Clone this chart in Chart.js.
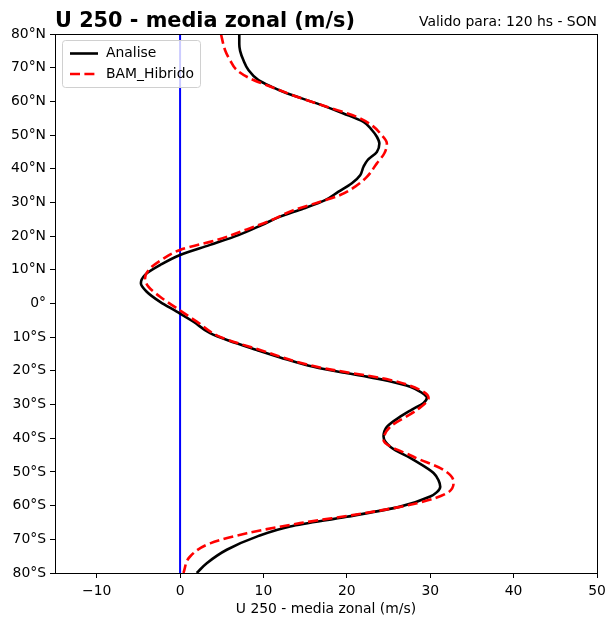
<!DOCTYPE html>
<html>
<head>
<meta charset="utf-8">
<script src="https://cdn.jsdelivr.net/npm/chart.js@4/dist/chart.umd.min.js"></script>
<style>
  body { margin: 0; background: #fff; }
  #wrap { width: 616px; height: 626px; }
</style>
</head>
<body>
<div id="wrap"><canvas id="chart" width="616" height="626"></canvas></div>
<script>
// latitudes (deg, + = N) and zonal wind (m/s)
const analiseLat = [80, 77, 75, 72.2, 69.3, 66.3, 64.3, 62.4, 59.4, 56.4, 53.9, 51.5, 49.5, 47.5, 45, 42.6, 40.6, 38.1, 35.7, 33.2, 30.7, 28.2, 25.8, 23.3, 20.3, 17.4, 14.4, 11.4, 8.5, 6, 3.5, 0.5, -2.4, -5.4, -8.8, -11, -13.8, -16, -18.8, -20.5, -21.7, -23, -24.7, -26.5, -28, -29.5, -31.5, -33.6, -36.6, -39.5, -42.5, -46.4, -50.3, -52.5, -54.4, -56, -57.3, -60.3, -63.3, -66.2, -69.2, -73.1, -77.1, -80];
const analiseU   = [7.1, 7.1, 7.2, 7.6, 8.2, 9.4, 11.0, 12.8, 16.4, 19.6, 22.0, 23.0, 23.6, 23.9, 23.6, 22.5, 22.0, 21.6, 20.6, 19.0, 17.4, 14.8, 12.0, 9.8, 7.0, 3.6, 0, -2.4, -4.2, -4.7, -4.0, -2.4, -0.4, 1.6, 3.6, 5.8, 9.2, 12.0, 16.0, 19.5, 22.4, 25.0, 27.6, 29.0, 29.6, 29.2, 27.8, 26.4, 24.8, 24.4, 25.2, 28.0, 30.4, 31.0, 31.2, 30.8, 30.0, 26.4, 20.0, 13.2, 9.2, 5.6, 3.2, 2.0];

const bamLat = [80, 75.2, 72.2, 69.3, 66.8, 64.8, 61.4, 58.4, 55.4, 52.5, 50.5, 47.5, 44.6, 41.6, 37.6, 34.7, 32.2, 30.2, 27.7, 24.8, 21.8, 19, 15.9, 13, 10.4, 7.5, 5, 2, -1.4, -5.4, -9.9, -13.8, -18.8, -22.7, -25.7, -28, -31.6, -36.6, -40.5, -45.5, -49.4, -52.9, -56.3, -59.3, -62.3, -65.2, -68.2, -71.2, -75.1, -80];
const bamU   = [4.9, 5.4, 6.0, 6.8, 8.4, 10.4, 14.0, 17.6, 21.2, 23.2, 24.0, 24.8, 24.5, 23.6, 22.4, 21.0, 19.2, 16.8, 13.6, 11.0, 7.8, 4.6, 0, -2.2, -3.6, -4.2, -3.8, -2.4, -0.4, 2.0, 4.8, 9.6, 16.4, 25.2, 28.8, 29.8, 28.4, 25.2, 24.4, 28.0, 31.6, 32.8, 32.0, 28.4, 22.0, 14.4, 8.0, 3.6, 1.2, 0.4];

const xTicks = [-10, 0, 10, 20, 30, 40, 50];
const yTicks = [-80, -70, -60, -50, -40, -30, -20, -10, 0, 10, 20, 30, 40, 50, 60, 70, 80];

const FONT = "'DejaVu Sans', sans-serif";
const DASH = [10, 4.4];

function toPoints(lat, u) {
  return lat.map((y, i) => ({ x: u[i], y: y }));
}

function latLabel(v) {
  if (v > 0) return v + '°N';
  if (v < 0) return (-v) + '°S';
  return '0°';
}

// frame, title and legend drawn on the canvas
const decor = {
  id: 'decor',
  afterDraw(chart) {
    const ctx = chart.ctx;
    const a = chart.chartArea;
    ctx.save();
    ctx.strokeStyle = '#000';
    ctx.lineWidth = 1;
    ctx.strokeRect(a.left + 0.5, a.top + 0.5, a.right - a.left, a.bottom - a.top);

    ctx.fillStyle = '#000';
    ctx.textBaseline = 'alphabetic';
    ctx.font = 'bold 20.8px ' + FONT;
    ctx.textAlign = 'left';
    ctx.fillText('U 250 - media zonal (m/s)', a.left, 27);
    ctx.font = '13.9px ' + FONT;
    ctx.textAlign = 'right';
    ctx.fillText('Valido para: 120 hs - SON', a.right, 26);

    // legend box
    const bx = a.left + 7, by = a.top + 6, bw = 138, bh = 47;
    ctx.fillStyle = 'rgba(255,255,255,0.8)';
    ctx.strokeStyle = '#d0d0d0';
    ctx.lineWidth = 1;
    ctx.beginPath();
    ctx.roundRect(bx + 0.5, by + 0.5, bw, bh, 3);
    ctx.fill();
    ctx.stroke();

    ctx.lineWidth = 2.6;
    ctx.strokeStyle = '#000';
    ctx.beginPath();
    ctx.moveTo(bx + 8, by + 13.5);
    ctx.lineTo(bx + 36, by + 13.5);
    ctx.stroke();
    ctx.strokeStyle = 'red';
    ctx.setLineDash(DASH);
    ctx.beginPath();
    ctx.moveTo(bx + 8, by + 34);
    ctx.lineTo(bx + 36, by + 34);
    ctx.stroke();
    ctx.setLineDash([]);

    ctx.fillStyle = '#000';
    ctx.textAlign = 'left';
    ctx.textBaseline = 'middle';
    ctx.font = '13.9px ' + FONT;
    ctx.fillText('Analise', bx + 44, by + 13.5);
    ctx.fillText('BAM_Hibrido', bx + 44, by + 34);
    ctx.restore();
  }
};

new Chart(document.getElementById('chart'), {
  type: 'scatter',
  data: {
    datasets: [
      {
        label: 'BAM_Hibrido',
        data: toPoints(bamLat, bamU),
        showLine: true,
        borderColor: 'red',
        borderWidth: 2.6,
        borderDash: DASH,
        pointRadius: 0,
        cubicInterpolationMode: 'monotone'
      },
      {
        label: 'Analise',
        data: toPoints(analiseLat, analiseU),
        showLine: true,
        borderColor: '#000',
        borderWidth: 2.6,
        pointRadius: 0,
        cubicInterpolationMode: 'monotone'
      },
      {
        label: 'zero',
        data: [{ x: 0, y: -80 }, { x: 0, y: 80 }],
        showLine: true,
        borderColor: 'blue',
        borderWidth: 2,
        pointRadius: 0
      }
    ]
  },
  options: {
    indexAxis: 'y',
    responsive: false,
    animation: false,
    layout: { padding: { top: 34, right: 19, left: 0, bottom: 0 } },
    plugins: {
      legend: { display: false },
      tooltip: { enabled: false }
    },
    scales: {
      x: {
        type: 'linear',
        position: 'bottom',
        min: -15,
        max: 50,
        afterBuildTicks: s => { s.ticks = xTicks.map(v => ({ value: v })); },
        afterFit: s => { s.height = 53; },
        ticks: {
          color: '#000',
          font: { family: FONT, size: 13.9 },
          padding: 5,
          maxRotation: 0,
          callback: v => (v < 0 ? '\u2212' + (-v) : String(v))
        },
        grid: { drawOnChartArea: false, color: '#000', tickLength: 5 },
        border: { color: '#000' },
        title: {
          display: true,
          text: 'U 250 - media zonal (m/s)',
          color: '#000',
          font: { family: FONT, size: 13.9 },
          padding: { top: 2, bottom: 8.6 }
        }
      },
      y: {
        type: 'linear',
        position: 'left',
        min: -80,
        max: 80,
        afterBuildTicks: s => { s.ticks = yTicks.map(v => ({ value: v })); },
        afterFit: s => { s.width = 55; },
        ticks: {
          color: '#000',
          font: { family: FONT, size: 13.9 },
          padding: 4,
          callback: v => latLabel(v)
        },
        grid: { drawOnChartArea: false, color: '#000', tickLength: 5 },
        border: { color: '#000' }
      }
    }
  },
  plugins: [decor]
});
</script>
</body>
</html>
